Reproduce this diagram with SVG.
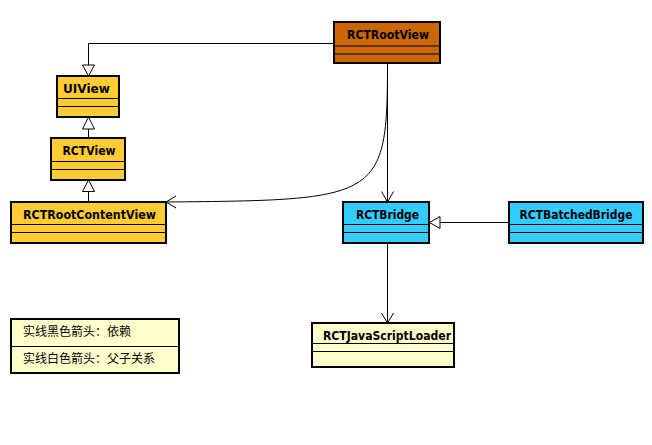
<svg xmlns="http://www.w3.org/2000/svg" width="652" height="445" viewBox="0 0 652 445">
<style>
.box{stroke:#000;stroke-width:2}
.div{stroke:#000;stroke-width:1}
.t{font-family:"DejaVu Sans","Liberation Sans",sans-serif;font-weight:bold;font-size:11.5px;fill:#000;text-anchor:middle}
.l{font-family:"Noto Sans CJK SC","Liberation Sans",sans-serif;font-size:12px;fill:#000}
.c{fill:none;stroke:#000;stroke-width:1}
.tri{fill:#fff;stroke:#000;stroke-width:1}
</style>
<rect width="652" height="445" fill="#fff"/>
<g id="connectors">
<path class="c" d="M334,43.5 H88.5 V65"/>
<polygon class="tri" points="88.5,76 82.5,65 94.5,65"/>
<path class="c" d="M88.5,129 V138"/>
<polygon class="tri" points="88.5,117 82.5,129 94.5,129"/>
<path class="c" d="M88.5,191.5 V202"/>
<polygon class="tri" points="88.5,180 82.5,191.5 94.5,191.5"/>
<path class="c" d="M387.5,63 V202"/>
<path class="c" d="M381.5,191.5 L387.5,202 L393.5,191.5"/>
<path class="c" d="M387.5,63 C387.5,200 380,200 166,202"/>
<path class="c" d="M176,196 L166,202 L176,208"/>
<path class="c" d="M387.5,243 V323"/>
<path class="c" d="M381.5,313 L387.5,323 L393.5,313"/>
<path class="c" d="M509,222.5 H440"/>
<polygon class="tri" points="429.5,222.5 440,216.5 440,228.5"/>
</g>
<g id="RCTRootView">
<rect class="box" x="334" y="22" width="106" height="41" fill="#CC6600"/>
<line class="div" x1="334" y1="46" x2="440" y2="46"/>
<line class="div" x1="334" y1="54" x2="440" y2="54"/>
<text class="t" x="388" y="39" textLength="82" lengthAdjust="spacingAndGlyphs">RCTRootView</text>
</g>
<g id="UIView">
<rect class="box" x="57" y="76" width="62" height="41" fill="#FFCC33"/>
<line class="div" x1="57" y1="98.5" x2="119" y2="98.5"/>
<line class="div" x1="57" y1="106.5" x2="119" y2="106.5"/>
<text class="t" x="86.5" y="92.5" textLength="47" lengthAdjust="spacingAndGlyphs">UIView</text>
</g>
<g id="RCTView">
<rect class="box" x="51" y="138" width="74" height="42" fill="#FFCC33"/>
<line class="div" x1="51" y1="161.5" x2="125" y2="161.5"/>
<line class="div" x1="51" y1="169.5" x2="125" y2="169.5"/>
<text class="t" x="89" y="155" textLength="53" lengthAdjust="spacingAndGlyphs">RCTView</text>
</g>
<g id="RCTRootContentView">
<rect class="box" x="11" y="202" width="155" height="41" fill="#FFCC33"/>
<line class="div" x1="11" y1="224.5" x2="166" y2="224.5"/>
<line class="div" x1="11" y1="232.5" x2="166" y2="232.5"/>
<text class="t" x="89.5" y="219" textLength="133" lengthAdjust="spacingAndGlyphs">RCTRootContentView</text>
</g>
<g id="RCTBridge">
<rect class="box" x="343" y="202" width="86" height="41" fill="#33CCFF"/>
<line class="div" x1="343" y1="224.5" x2="429" y2="224.5"/>
<line class="div" x1="343" y1="232.5" x2="429" y2="232.5"/>
<text class="t" x="387.5" y="219" textLength="63" lengthAdjust="spacingAndGlyphs">RCTBridge</text>
</g>
<g id="RCTBatchedBridge">
<rect class="box" x="509" y="202" width="134" height="41" fill="#33CCFF"/>
<line class="div" x1="509" y1="224.5" x2="643" y2="224.5"/>
<line class="div" x1="509" y1="232.5" x2="643" y2="232.5"/>
<text class="t" x="576" y="219" textLength="113" lengthAdjust="spacingAndGlyphs">RCTBatchedBridge</text>
</g>
<g id="RCTJavaScriptLoader">
<rect class="box" x="312" y="323" width="142" height="44" fill="#FFFFCC"/>
<line class="div" x1="312" y1="343.5" x2="454" y2="343.5"/>
<line class="div" x1="312" y1="351.5" x2="454" y2="351.5"/>
<text class="t" x="387" y="340" textLength="128" lengthAdjust="spacingAndGlyphs">RCTJavaScriptLoader</text>
</g>
<g id="legend">
<rect class="box" x="11" y="319" width="168" height="54" fill="#FFFFCC"/>
<line class="div" x1="11" y1="346.5" x2="179" y2="346.5"/>
<text class="l" x="23" y="336">实线黑色箭头：依赖</text>
<text class="l" x="23" y="363">实线白色箭头：父子关系</text>
</g>
</svg>
